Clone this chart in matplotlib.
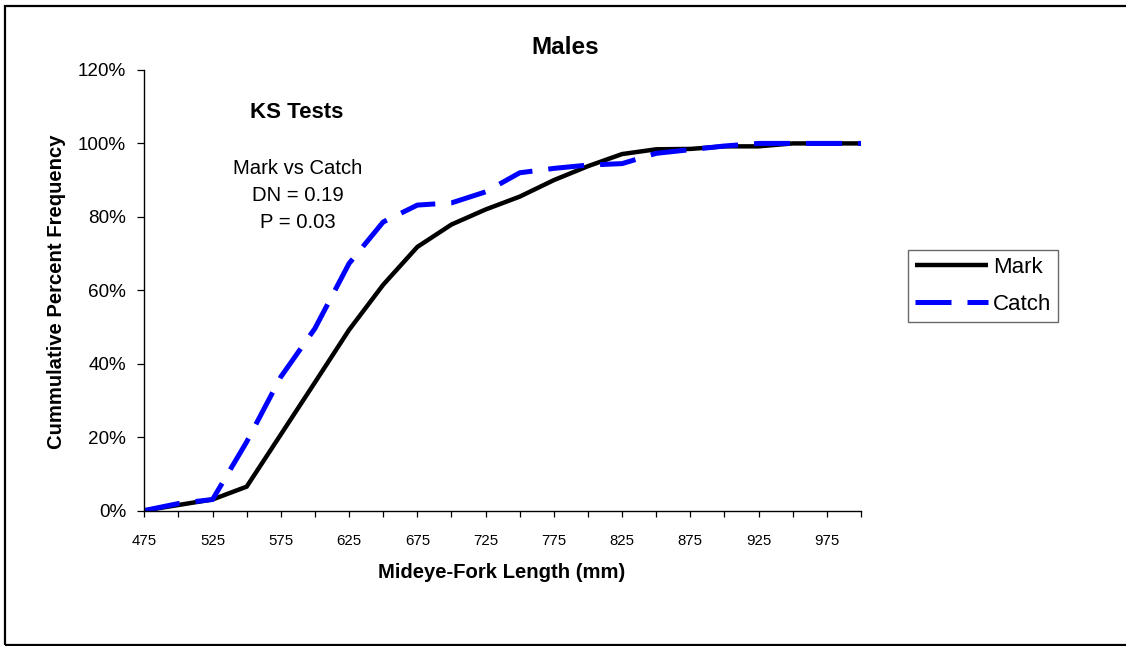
import matplotlib
matplotlib.use("Agg")
import matplotlib.pyplot as plt
from matplotlib.ticker import FixedLocator, FuncFormatter
from matplotlib.patches import Rectangle

plt.rcParams['font.family'] = ['Liberation Sans', 'DejaVu Sans']

lengths = [475, 500, 525, 550, 575, 600, 625, 650, 675, 700, 725,
           750, 775, 800, 825, 850, 875, 900, 925, 950, 975, 1000]
mark = [0.0, 1.5, 3.0, 6.5, 20.7, 34.9, 49.2, 61.5, 71.8, 77.9, 82.0,
        85.5, 90.0, 93.8, 97.1, 98.4, 98.5, 99.2, 99.2, 100.0, 100.0, 100.0]
catch = [0.0, 1.9, 3.0, 18.7, 36.4, 49.6, 67.3, 78.6, 83.2, 83.8, 86.8,
         92.0, 93.2, 94.1, 94.5, 97.3, 98.3, 99.3, 100.0, 100.0, 100.0, 100.0]
x_labels = [475, 525, 575, 625, 675, 725, 775, 825, 875, 925, 975]
y_ticks = [0, 20, 40, 60, 80, 100, 120]

W, H = 1126, 646
fig = plt.figure(figsize=(W / 100, H / 100), dpi=100)
ax = fig.add_axes([144.3 / W, (H - 510.5) / H, (861 - 144.3) / W, 440.5 / H])

ax.plot(lengths, mark, color='black', lw=3.2, label='Mark',
        solid_capstyle='butt', solid_joinstyle='miter')
ax.plot(lengths, catch, color='#0000FF', lw=3.6, label='Catch',
        linestyle=(0, (7.2, 3.2)), dash_capstyle='butt')

ax.set_xlim(lengths[0], lengths[-1])
ax.set_ylim(0, 120)
ax.xaxis.set_major_locator(FixedLocator(lengths))
ax.xaxis.set_major_formatter(FuncFormatter(lambda v, p: str(int(round(v))) if int(round(v)) in x_labels else ''))
ax.yaxis.set_major_locator(FixedLocator(y_ticks))
ax.yaxis.set_major_formatter(FuncFormatter(lambda v, p: f"{int(round(v))}%"))

for s in ['top', 'right']:
    ax.spines[s].set_visible(False)
for s in ['left', 'bottom']:
    ax.spines[s].set_linewidth(1.0)
    ax.spines[s].set_color('black')

ax.tick_params(axis='x', direction='out', length=4, width=0.9, labelsize=10.8, pad=13)
ax.tick_params(axis='y', direction='out', length=5, width=0.9, labelsize=13.6, pad=8)

fig.text(565.5 / W, 1 - 47.7 / H, 'Males', ha='center', va='center', fontsize=17.5, fontweight='bold')
fig.text(502 / W, 1 - 573 / H, 'Mideye-Fork Length (mm)', ha='center', va='center', fontsize=14.6, fontweight='bold')
fig.text(56 / W, 1 - 292 / H, 'Cummulative Percent Frequency', ha='center', va='center',
         rotation=90, fontsize=14.6, fontweight='bold')

fig.text(297 / W, 1 - 112.3 / H, 'KS Tests', ha='center', va='center', fontsize=16, fontweight='bold')
fig.text(297.5 / W, 1 - 168.3 / H, 'Mark vs Catch', ha='center', va='center', fontsize=14.6)
fig.text(297.5 / W, 1 - 196 / H, 'DN = 0.19', ha='center', va='center', fontsize=14.6)
fig.text(297.5 / W, 1 - 222.7 / H, 'P = 0.03', ha='center', va='center', fontsize=14.6)

leg = ax.legend(loc='upper left', bbox_to_anchor=(908 / W, 1 - 250 / H), bbox_transform=fig.transFigure,
                fontsize=16, frameon=True, fancybox=False, handlelength=3.3, handletextpad=0.2,
                borderpad=0.32, labelspacing=0.7, borderaxespad=0)
leg.get_frame().set_edgecolor('#444444')
leg.get_frame().set_linewidth(1.0)

fig.patches.append(Rectangle((4.5 / W, 1 - 645 / H), (1130 - 4.5) / W, (645 - 5.5) / H,
                             transform=fig.transFigure, fill=False, edgecolor='black', lw=1.6))

fig.savefig('out.png', dpi=100)
